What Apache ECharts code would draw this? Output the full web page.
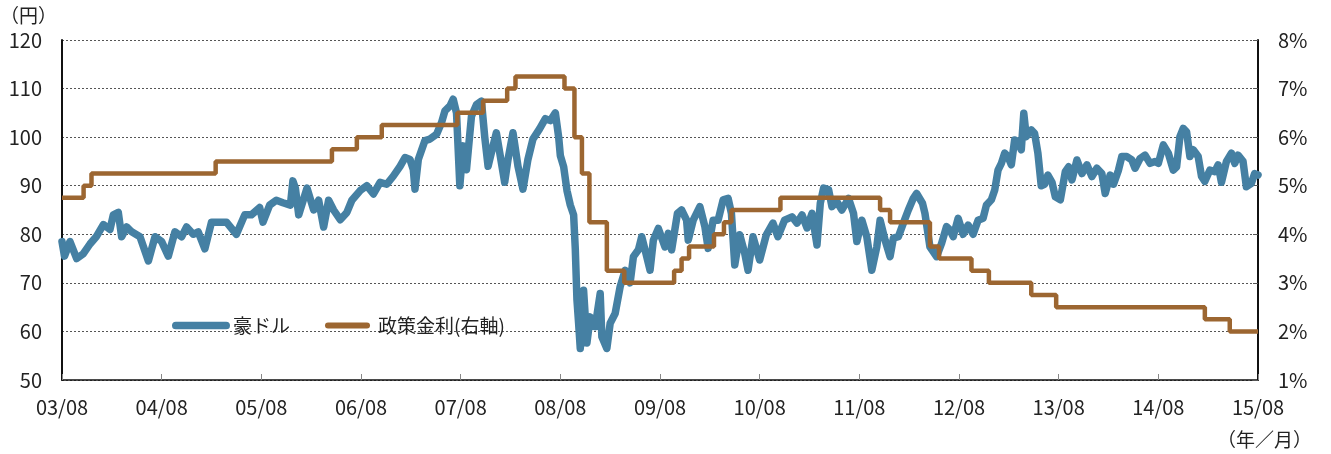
<!DOCTYPE html>
<html>
<head>
<meta charset="utf-8">
<script src="https://cdn.jsdelivr.net/npm/echarts@6/dist/echarts.min.js"></script>
<style>
html,body{margin:0;padding:0;background:#fff;}
#chart{width:1331px;height:454px;}
</style>
</head>
<body>
<div id="chart"></div>
<script>
// x position in months since 03/08
const xTickLabels = ['03/08','04/08','05/08','06/08','07/08','08/08','09/08','10/08','11/08','12/08','13/08','14/08','15/08'];
const leftTicks = [50,60,70,80,90,100,110,120];
const rightTicks = ['1%','2%','3%','4%','5%','6%','7%','8%'];

// AUD/JPY (円): month offset and value
const audT = [0.0,0.3,0.96,1.77,2.57,3.37,4.17,4.98,5.78,6.18,6.78,7.18,7.79,8.39,9.39,10.4,11.2,12.0,12.8,13.6,14.4,15.0,15.8,16.4,17.2,18.0,19.0,19.8,21.0,22.0,22.8,23.8,24.2,25.0,25.8,26.6,27.5,27.8,28.1,28.5,29.5,30.3,30.9,31.5,32.1,32.7,33.5,34.3,34.9,35.9,36.7,37.5,38.3,39.1,39.9,40.7,41.3,41.9,42.3,42.5,42.9,43.7,44.3,45.1,45.7,46.1,46.7,47.1,47.5,47.9,48.3,48.7,49.3,49.9,50.5,50.9,51.3,51.7,52.3,52.7,53.3,53.7,54.3,54.9,55.5,56.1,56.7,57.5,58.2,58.8,59.4,59.8,60.0,60.4,60.8,61.2,61.6,61.8,62.0,62.2,62.4,62.8,63.2,63.6,64.2,64.8,65.0,65.6,66.0,66.6,67.2,67.8,68.4,68.8,69.4,69.8,70.2,70.8,71.2,71.8,72.0,72.6,73.0,73.4,74.1,74.6,75.2,75.4,76.0,76.8,77.4,77.8,78.4,79.0,79.6,80.2,80.6,81.0,81.6,82.2,82.6,83.2,84.0,84.8,85.6,86.2,87.0,87.9,88.5,89.1,89.7,90.3,90.9,91.3,91.7,92.3,92.7,93.3,93.9,94.7,95.3,95.7,96.3,96.9,97.5,98.1,98.5,99.1,99.7,100.1,100.7,101.3,101.9,102.5,102.9,103.6,103.9,104.5,105.3,105.9,106.5,106.9,107.3,107.9,108.5,109.1,109.7,110.3,110.9,111.3,111.9,112.3,112.7,113.1,113.5,113.9,114.3,114.7,115.1,115.5,115.8,116.1,116.7,117.1,117.5,117.9,118.3,118.7,119.2,119.6,120.2,120.8,121.2,121.6,122.2,122.8,123.4,124.0,124.6,125.2,125.6,126.2,126.6,127.2,127.6,128.2,128.8,129.2,129.8,130.4,131.0,131.6,132.0,132.6,133.2,133.8,134.2,134.6,135.0,135.4,135.8,136.2,136.8,137.2,137.6,138.2,138.8,139.2,139.6,140.2,140.8,141.2,141.6,142.2,142.6,143.2,143.6,144.0];
const audJpy = [78.5,75.5,78.5,75,76,78,79.6,82,81,84,84.5,79.5,81.5,80.5,79.5,74.5,79.5,78.5,75.5,80.5,79.5,81.5,80,80.5,77,82.5,82.5,82.5,80,84,84,85.5,82.5,86,87,86.5,86,91,89.5,84,89.5,85,87,81.5,87,85,83,84.5,87,89,90,88.3,90.7,90.3,92,94,95.8,95.4,93.3,89.3,95.4,99.3,99.6,100.6,103,105.4,106.4,107.8,105,90,98.2,93.3,104.3,106.7,107.4,100,94,96.8,100.9,96.8,90.7,95.4,100.9,94,89.3,95.4,99.6,101.7,103.8,103.4,105,100,96.2,93.9,89,86,84,77,66.5,61.7,56.5,68.5,57.6,63,61,67.8,58.9,56.5,61.7,63.7,69.2,72.6,70,75.4,76.8,79.5,76.8,72.6,78.8,81.2,81.6,77.4,80.2,76.8,84.3,85,82.9,78.8,82.9,85.7,81.6,77.1,82.9,82.9,87.1,87.4,84.3,73.7,79.9,76.1,72.6,79.5,74.7,79.9,82.3,79.5,82.9,83.6,82.3,84,81.3,84.3,77.8,86.4,89.5,89.2,85.7,86.7,85,87.4,84.3,78.5,82.9,79.5,72.6,77.4,82.9,78.8,75.4,79.2,79.5,82.3,85,87.4,88.4,86.4,84.3,77.4,75.4,78.1,81.6,80.9,79.5,83.3,80,81.9,80,82.9,83.3,86,87.1,89.1,93.2,94.6,96.7,96,94.3,99.4,99.1,97.4,104.9,100.1,101.5,100.8,96.7,90,90.3,92.2,90.7,87.7,87.1,92.9,93.9,91.2,95.3,92.5,94.3,91.9,93.6,92.5,88.4,92.2,90.3,93.2,96,96,95.3,93.6,95.6,96.3,94.6,95,94.6,98.4,96.7,93.2,93.9,100.1,101.8,101.1,96,97.4,96,91.9,90.9,93.2,92.9,94.3,90.7,95,96.7,94.6,96.3,95,89.8,90.5,92.5,92.2];

// RBA policy rate (%): month offset of each change and new level
const rateT = [0,2.6,3.55,18.5,32.5,35.5,38.5,47.6,50.7,53.6,54.6,60.5,61.7,62.6,63.5,65.6,67.7,73.7,74.6,75.5,78.5,79.7,80.6,86.5,98.5,99.7,104.5,105.6,109.5,111.6,116.7,119.7,137.6,140.6,144];
const rate  = [4.75,5.00,5.25,5.50,5.75,6.00,6.25,6.50,6.75,7.00,7.25,7.00,6.00,5.25,4.25,3.25,3.00,3.25,3.50,3.75,4.00,4.25,4.50,4.75,4.50,4.25,3.75,3.50,3.25,3.00,2.75,2.50,2.25,2.00,2.00];

const BLUE = '#4580A3';
const BROWN = '#9C6631';
const FONT = '"Noto Sans CJK JP","Noto Sans",sans-serif';

const chart = echarts.init(document.getElementById('chart'), null, {renderer:'canvas'});
const pill = 'path://M4,0 L56,0 A4,4 0 0 1 56,8 L4,8 A4,4 0 0 1 4,0 Z';

chart.setOption({
  animation:false,
  backgroundColor:'#fff',
  textStyle:{fontFamily:FONT},
  grid:{left:62,right:73,top:40,bottom:74,containLabel:false},
  legend:[
    {left:172,top:316,padding:0,itemWidth:58,itemHeight:8,data:[{name:'豪ドル',icon:pill}],
     textStyle:{fontSize:19,color:'#222',fontFamily:FONT,padding:[0,0,0,-2]}},
    {left:325,top:316,padding:0,itemWidth:55,itemHeight:6,data:[{name:'政策金利(右軸)',icon:pill}],
     textStyle:{fontSize:19,color:'#222',fontFamily:FONT,padding:[0,0,0,-2]}}
  ],
  xAxis:{
    type:'value',min:0,max:144,interval:12,
    axisLine:{show:true,lineStyle:{color:'#111',width:1.5}},
    axisTick:{show:true,inside:true,length:6,lineStyle:{color:'#888',width:1}},
    splitLine:{show:false},
    axisLabel:{margin:17,fontSize:20,color:'#222',fontFamily:FONT,
      formatter:function(v){return xTickLabels[Math.round(v/12)];}}
  },
  yAxis:[
    {type:'value',min:50,max:120,interval:10,position:'left',
     axisLine:{show:true,lineStyle:{color:'#111',width:2}},
     axisTick:{show:false},
     splitLine:{show:true,lineStyle:{color:'#555',width:1,type:[2,2]}},
     axisLabel:{margin:20,fontSize:20,color:'#222',fontFamily:FONT,
       formatter:function(v){return String(leftTicks[Math.round((v-50)/10)]);}}},
    {type:'value',min:1,max:8,interval:1,position:'right',
     axisLine:{show:true,lineStyle:{color:'#111',width:2}},
     axisTick:{show:true,inside:true,length:5,lineStyle:{color:'#555'}},
     splitLine:{show:false},
     axisLabel:{margin:20,fontSize:20,color:'#222',fontFamily:FONT,
       formatter:function(v){return rightTicks[Math.round(v-1)];}}}
  ],
  graphic:[
    {type:'text',left:0,top:6,style:{text:'（円）',fontSize:19,fill:'#222',fontFamily:FONT}},
    {type:'text',left:1217,top:430,style:{text:'（年／月）',fontSize:19,fill:'#222',fontFamily:FONT}}
  ],
  series:[
    {name:'豪ドル',type:'line',yAxisIndex:0,showSymbol:false,symbol:'none',
     data:audT.map((t,i)=>[t,audJpy[i]]),
     itemStyle:{color:BLUE},
     lineStyle:{color:BLUE,width:7.5,cap:'round',join:'round'},z:2},
    {name:'政策金利(右軸)',type:'line',yAxisIndex:1,showSymbol:false,symbol:'none',step:'end',
     data:rateT.map((t,i)=>[t,rate[i]]),
     itemStyle:{color:BROWN},
     lineStyle:{color:BROWN,width:4.5},z:3}
  ]
});
</script>
</body>
</html>
